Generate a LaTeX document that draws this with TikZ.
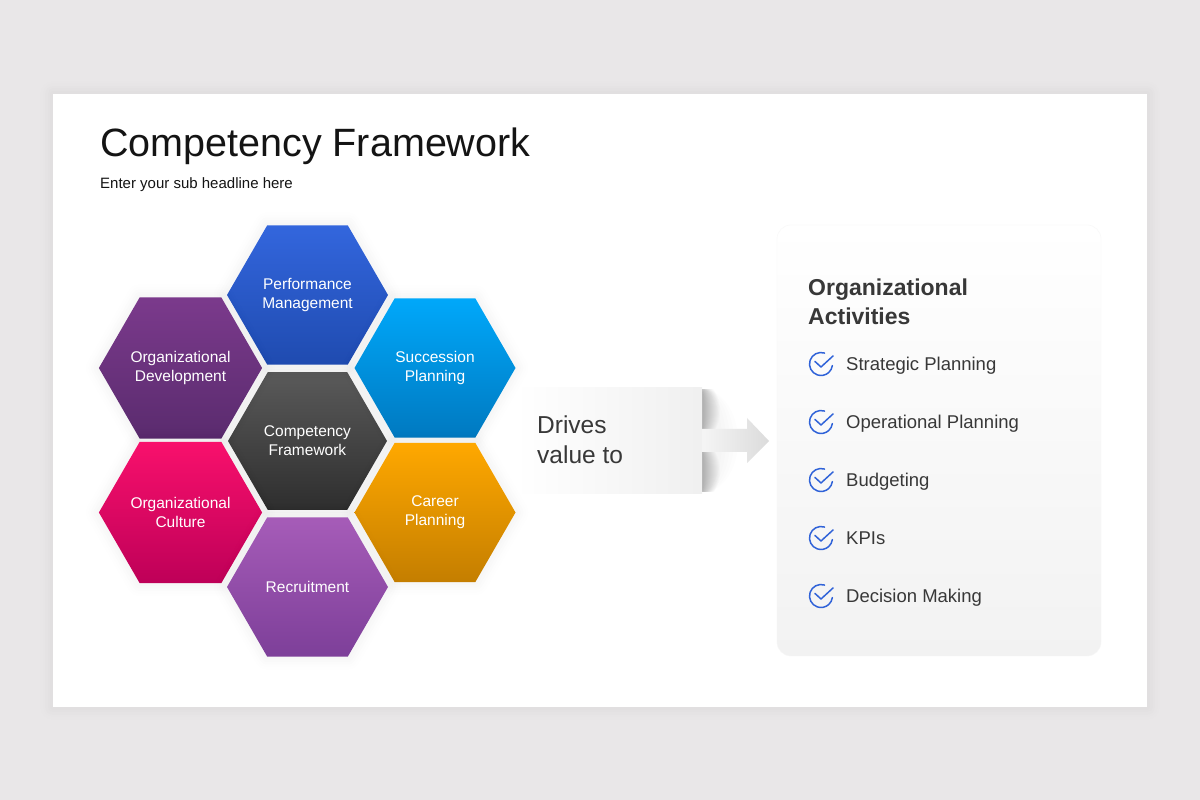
\documentclass[tikz,border=0pt]{standalone}
\usepackage{fontspec}
\setmainfont{Liberation Sans}
\usetikzlibrary{shapes.geometric}

\definecolor{slidegray}{HTML}{E9E7E8}
\definecolor{inkdark}{HTML}{383838}
\definecolor{tickblue}{HTML}{2F62D8}
\definecolor{panelgray}{HTML}{F2F2F2}
\definecolor{perftop}{HTML}{3366DD}
\definecolor{perfbot}{HTML}{1F4BB0}
\definecolor{devtop}{HTML}{7B3A8C}
\definecolor{devbot}{HTML}{5A2B6E}
\definecolor{succtop}{HTML}{00A8FA}
\definecolor{succbot}{HTML}{0079C0}
\definecolor{cartop}{HTML}{FFA800}
\definecolor{carbot}{HTML}{C47E00}
\definecolor{culttop}{HTML}{F8106C}
\definecolor{cultbot}{HTML}{BE0058}
\definecolor{rectop}{HTML}{A65CB8}
\definecolor{recbot}{HTML}{7D3F99}
\definecolor{coretop}{HTML}{5A5A5A}
\definecolor{corebot}{HTML}{2E2E2E}

\begin{document}
\begin{tikzpicture}[
            x = 1pt,
            y = 1pt,
            node distance = 146pt, % distance between hexagons
            softshadow/.style = {
                preaction = {draw=black, opacity=.005, line width=26pt, line join=round},
                preaction = {draw=black, opacity=.005, line width=21pt, line join=round},
                preaction = {draw=black, opacity=.006, line width=16pt, line join=round},
                preaction = {draw=black, opacity=.006, line width=11pt, line join=round},
                preaction = {draw=black, opacity=.008, line width=6pt, line join=round}
            }
        ]

        \tikzset{
            hexa/.style = {
                regular polygon,
                regular polygon sides = 6,
                minimum size = 161pt,
                inner sep = 0pt,
                align = center,
                text = white,
                font = \fontsize{15.5}{19}\selectfont,
                softshadow
            },
            entry/.style = {
                anchor = base west,
                inner sep = 0pt,
                text = inkdark,
                font = \fontsize{18.5}{22}\selectfont
            },
            tick/.pic = {
                \draw[tickblue, line width=1.5pt, line cap=round] (72:11.5) arc (72:352:11.5);
                \draw[tickblue, line width=1.5pt, line cap=round, line join=round] (-6,2.5) -- (0,-3) -- (12,8);
            }
        }

        % slide
        \useasboundingbox (0,0) rectangle (1200,800);
        \fill[slidegray] (0,0) rectangle (1200,800);
        \node[fill=white, inner sep=0pt, minimum width=1094pt, minimum height=613pt, softshadow] (slide) at (600,399.5) {};

        \node[anchor=west, inner sep=0pt, text=black!92, font=\fontsize{39.5}{48}\selectfont] (title) at (100,654) {Competency Framework};
        \node[anchor=west, inner sep=0pt, text=black!92, font=\fontsize{15}{18}\selectfont] (subtitle) at (100,615) {Enter your sub headline here};

        % right panel
        \node[rounded corners=14pt, draw=black!3, top color=white, bottom color=panelgray, inner sep=0pt, minimum width=324pt, minimum height=431pt] (panel) at (939,359.5) {};

        % drives value to
        \begin{scope}
            \clip (702,308) rectangle (745,410);
            \foreach \w in {1,2,...,18} {
                \fill[black, opacity=.017] (702,389) ellipse ({\w} and {19+.5*\w});
                \fill[black, opacity=.017] (702,329) ellipse ({\w} and {19+.5*\w});
            }
            \foreach \w in {20,24,...,36} {
                \fill[black, opacity=.008] (702,359) ellipse ({\w} and 52);
            }
        \end{scope}
        \shade[left color=black!4, right color=black!14] (702,348) -- (747,348) -- (747,337) -- (769,359) -- (747,382) -- (747,371) -- (702,371) -- cycle;
        \node[left color=white, right color=black!6, inner sep=0pt, minimum width=187pt, minimum height=106pt] (drives) at (608.5,359) {};
        \node[anchor=west, inner sep=0pt, align=left, text=inkdark, font=\fontsize{24.5}{30}\selectfont] (drivestext) at (537,360) {Drives\\value to};

        % hexagons
        \node[hexa, minimum size=159pt, top color=coretop, bottom color=corebot] (core) at (307.5,359) {Competency\\Framework};
        \node[hexa, top color=perftop, bottom color=perfbot] (perf) [above of=core] {Performance\\Management};
        \node[hexa, top color=devtop, bottom color=devbot] (orgdev) at (180.5,432) {Organizational\\Development};
        \node[hexa, top color=succtop, bottom color=succbot] (succ) at (435,432) {Succession\\Planning};
        \node[hexa, top color=cartop, bottom color=carbot] (career) at (435,287.5) {Career\\Planning};
        \node[hexa, top color=culttop, bottom color=cultbot] (orgcult) at (180.5,287.5) {Organizational\\Culture};
        \node[hexa, top color=rectop, bottom color=recbot] (recruit) [below of=core] {Recruitment};

        % activities list
        \node[anchor=north west, inner sep=0pt, align=left, text=inkdark, font=\fontsize{23}{29}\bfseries\selectfont] (acttitle) at (808,521) {Organizational\\Activities};

        \pic at (821,436) {tick};
        \node[entry] (strategic) at (846,429.5) {Strategic Planning};
        \pic at (821,378) {tick};
        \node[entry] (operational) at (846,371.5) {Operational Planning};
        \pic at (821,320) {tick};
        \node[entry] (budgeting) at (846,313.5) {Budgeting};
        \pic at (821,262) {tick};
        \node[entry] (kpis) at (846,255.5) {KPIs};
        \pic at (821,204) {tick};
        \node[entry] (decision) at (846,197.5) {Decision Making};

    \end{tikzpicture}
\end{document}
